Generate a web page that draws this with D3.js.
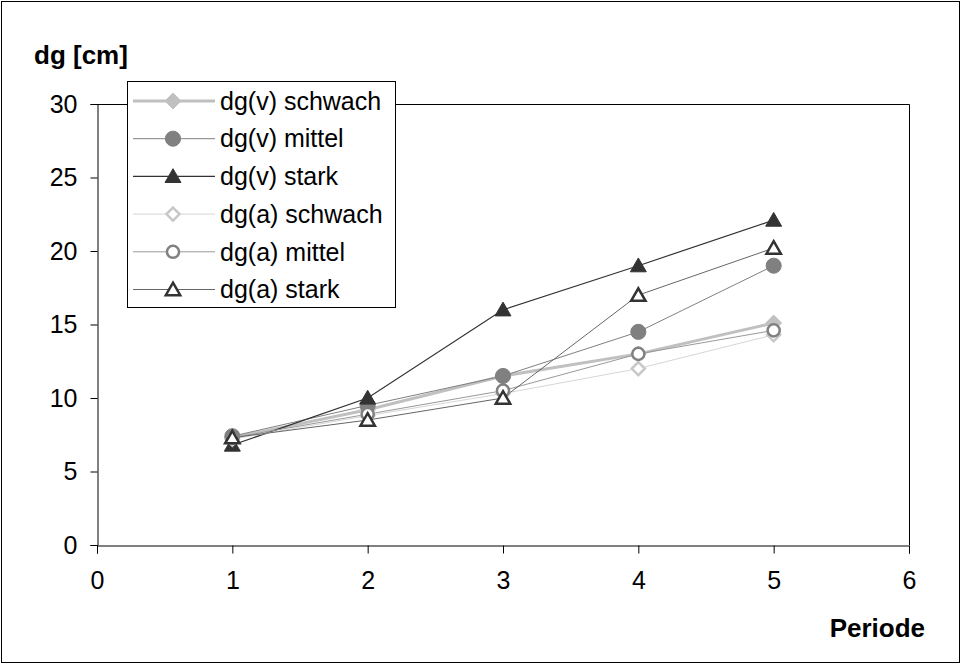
<!DOCTYPE html>
<meta charset="utf-8">
<title>dg [cm] nach Periode</title>
<head>
  <script src="https://d3js.org/d3.v7.min.js"></script>
  <style>
    body { margin: 0; background: #fff; }
    text { font-family: "Liberation Sans", Arial, sans-serif; fill: #000; }
  </style>
</head>
<body>
  <div id="chart"></div>
  <script>
    // data
    var perioden = [1, 2, 3, 4, 5]
    var xTicks = [0, 1, 2, 3, 4, 5, 6]
    var yTicks = [0, 5, 10, 15, 20, 25, 30]
    var seriesNames = ["dg(v) schwach", "dg(v) mittel", "dg(v) stark", "dg(a) schwach", "dg(a) mittel", "dg(a) stark"]
    var vSchwach = [7.3, 9.2, 11.5, 13.0, 15.1]
    var vMittel = [7.4, 9.5, 11.5, 14.5, 19.0]
    var vStark = [6.8, 10.0, 16.0, 19.0, 22.1]
    var aSchwach = [7.2, 8.8, 10.3, 12.0, 14.3]
    var aMittel = [7.3, 8.9, 10.5, 13.0, 14.6]
    var aStark = [7.3, 8.5, 10.0, 17.0, 20.2]

    var width = 961
    var height = 664
    var margin = { left: 97, right: 52, top: 104, bottom: 119 }

    // square diamond (d3's own diamond is too narrow)
    var squareDiamond = {
      draw: function(ctx, size) {
        var r = Math.sqrt(size / 2)
        ctx.moveTo(0, -r)
        ctx.lineTo(r, 0)
        ctx.lineTo(0, r)
        ctx.lineTo(-r, 0)
        ctx.closePath()
      }
    }

    // look of each series
    var styles = [
      { color: "#c0c0c0", width: 3, symbol: squareDiamond, size: 125, filled: true },
      { color: "#808080", width: 1, symbol: d3.symbolCircle, size: 180, filled: true },
      { color: "#333333", width: 1.2, symbol: d3.symbolTriangle, size: 110, filled: true },
      { color: "#c8c8c8", width: 1, symbol: squareDiamond, size: 85, filled: false },
      { color: "#808080", width: 1, symbol: d3.symbolCircle, size: 115, filled: false },
      { color: "#333333", width: 1, symbol: d3.symbolTriangle, size: 90, filled: false }
    ]
    var lineColors = ["#c0c0c0", "#808080", "#333333", "#d6d6d6", "#999999", "#666666"]
    var allValues = [vSchwach, vMittel, vStark, aSchwach, aMittel, aStark]

    var series = seriesNames.map(function(name, i) {
      return { name: name, style: styles[i], lineColor: lineColors[i],
        values: perioden.map(function(p, j) { return { x: p, y: allValues[i][j] } }) }
    })

    var svg = d3.select("#chart").append("svg")
      .attr("width", width)
      .attr("height", height)

    // outer frame
    svg.append("rect")
      .attr("x", 1.5).attr("y", 1.5)
      .attr("width", width - 3).attr("height", height - 3)
      .attr("fill", "#fff").attr("stroke", "#000").attr("stroke-width", 1)

    var x = d3.scaleLinear().domain([0, 6]).range([margin.left, width - margin.right])
    var y = d3.scaleLinear().domain([0, 30]).range([height - margin.bottom, margin.top])

    // plot frame (top + right)
    svg.append("path")
      .attr("d", "M" + x(0) + "," + (y(30) + 0.5) + "H" + (x(6) + 0.5) + "V" + y(0))
      .attr("fill", "none").attr("stroke", "#000")

    var xAxis = svg.append("g")
      .attr("transform", "translate(0," + (y(0) + 0.5) + ")")
      .call(d3.axisBottom(x).tickValues(xTicks).tickSize(8).tickPadding(18).tickFormat(d3.format("d")))
    var yAxis = svg.append("g")
      .attr("transform", "translate(" + (x(0) + 0.5) + ",0)")
      .call(d3.axisLeft(y).tickValues(yTicks).tickSize(7).tickPadding(13).tickFormat(d3.format("d")))

    svg.selectAll(".domain").attr("stroke", "#000")
    svg.selectAll(".tick line").attr("stroke", "#000")
    svg.selectAll(".tick text").attr("font-size", 25).attr("fill", "#000")
      .attr("font-family", "Liberation Sans, Arial, sans-serif")

    svg.append("text")
      .attr("x", 34).attr("y", 64)
      .attr("font-size", 26).attr("font-weight", "bold")
      .text("dg [cm]")
    svg.append("text")
      .attr("x", 925).attr("y", 637)
      .attr("text-anchor", "end")
      .attr("font-size", 26).attr("font-weight", "bold")
      .text("Periode")

    var line = d3.line()
      .x(function(d) { return x(d.x) })
      .y(function(d) { return y(d.y) })

    // lines
    svg.append("g").selectAll("path")
      .data(series)
      .enter().append("path")
      .attr("d", function(d) { return line(d.values) })
      .attr("fill", "none")
      .attr("stroke", function(d) { return d.lineColor })
      .attr("stroke-width", function(d) { return d.style.width })

    function drawMarker(sel, s) {
      sel.attr("d", d3.symbol().type(s.symbol).size(s.size))
        .attr("fill", s.filled ? s.color : "#fff")
        .attr("stroke", s.color)
        .attr("stroke-width", s.filled ? 1 : 2.5)
    }

    // markers
    series.forEach(function(s) {
      svg.append("g").selectAll("path")
        .data(s.values)
        .enter().append("path")
        .attr("transform", function(d) {
          var dy = s.style.symbol === d3.symbolTriangle ? 1.5 : 0
          return "translate(" + x(d.x) + "," + (y(d.y) + dy) + ")"
        })
        .call(drawMarker, s.style)
    })

    // legend
    var legend = svg.append("g").attr("transform", "translate(127,81)")
    legend.append("rect")
      .attr("x", 0.5).attr("y", 0.5)
      .attr("width", 268).attr("height", 226)
      .attr("fill", "#fff").attr("stroke", "#000")

    var rows = legend.selectAll("g.row")
      .data(series)
      .enter().append("g")
      .attr("class", "row")
      .attr("transform", function(d, i) { return "translate(0," + (20 + i * 37.7) + ")" })

    rows.append("line")
      .attr("x1", 6).attr("x2", 88)
      .attr("stroke", function(d) { return d.lineColor })
      .attr("stroke-width", function(d) { return d.style.width })
    rows.each(function(d) {
      d3.select(this).append("path")
        .attr("transform", "translate(46," + (d.style.symbol === d3.symbolTriangle ? 1.5 : 0) + ")")
        .call(drawMarker, d.style)
    })
    rows.append("text")
      .attr("x", 93).attr("dy", "0.35em")
      .attr("font-size", 25)
      .text(function(d) { return d.name })
  </script>
</body>
